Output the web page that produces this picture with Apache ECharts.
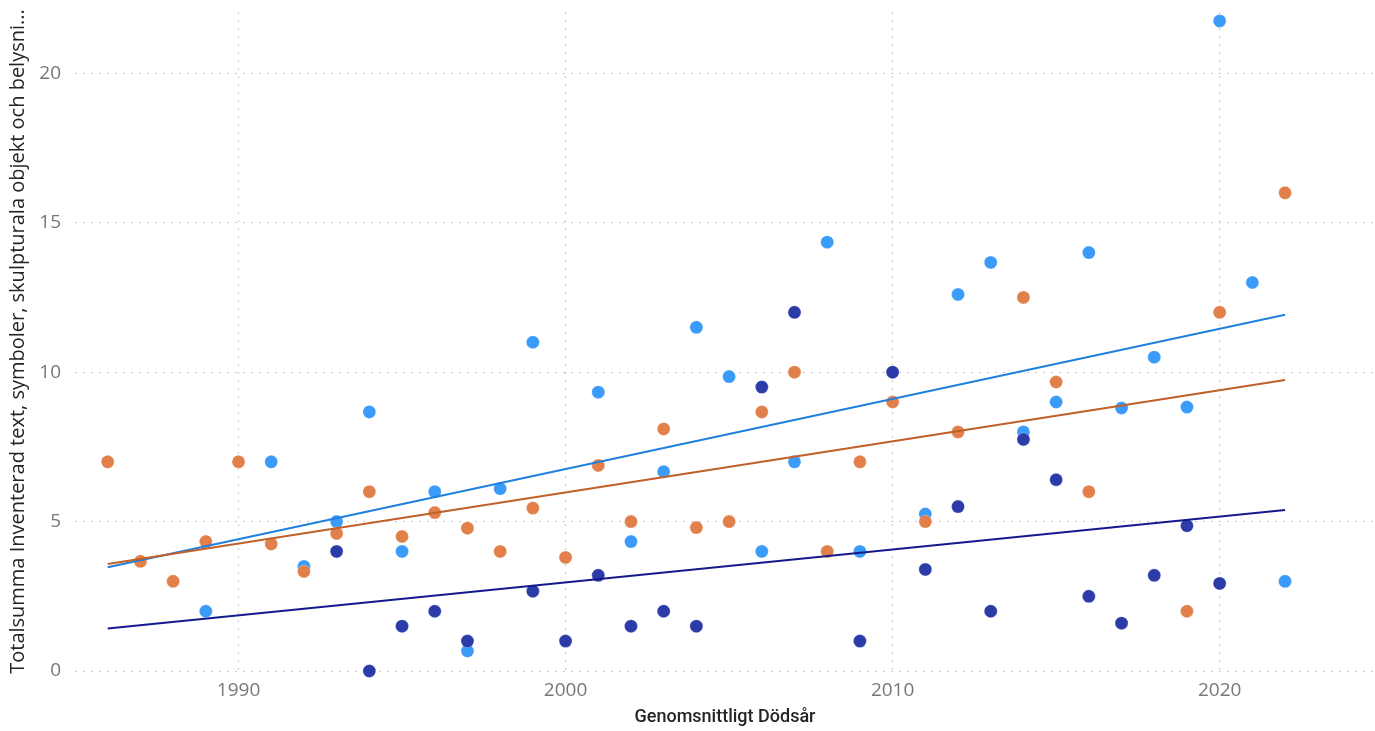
<!DOCTYPE html>
<html>
<head>
<meta charset="utf-8">
<script src="https://cdn.jsdelivr.net/npm/echarts@6/dist/echarts.min.js"></script>
<style>
html,body{margin:0;padding:0;background:#fff;}
#chart{width:1375px;height:731px;}
</style>
</head>
<body>
<div id="chart"></div>
<script>
// ---- data ----
const xTicks = [1990, 2000, 2010, 2020];
const yTicks = [0, 5, 10, 15, 20];

const lightBlueYears = [1989,1991,1992,1993,1994,1995,1996,1997,1998,1999,2001,2002,2003,2004,2005,2006,2007,2008,2009,2011,2012,2013,2014,2015,2016,2017,2018,2019,2020,2021,2022];
const lightBlueValues = [2.0,7.0,3.5,5.0,8.67,4.0,6.0,0.67,6.1,11.0,9.33,4.33,6.67,11.5,9.85,4.0,7.0,14.35,4.0,5.25,12.6,13.67,8.0,9.0,14.0,8.8,10.5,8.83,21.75,13.0,3.0];

const navyYears = [1993,1994,1995,1996,1997,1999,2000,2001,2002,2003,2004,2006,2007,2009,2010,2011,2012,2013,2014,2015,2016,2017,2018,2019,2020];
const navyValues = [4.0,0.0,1.5,2.0,1.0,2.67,1.0,3.2,1.5,2.0,1.5,9.5,12.0,1.0,10.0,3.4,5.5,2.0,7.75,6.4,2.5,1.6,3.2,4.86,2.93];

const orangeYears = [1986,1987,1988,1989,1990,1991,1992,1993,1994,1995,1996,1997,1998,1999,2000,2001,2002,2003,2004,2005,2006,2007,2008,2009,2010,2011,2012,2014,2015,2016,2019,2020,2022];
const orangeValues = [7.0,3.67,3.0,4.33,7.0,4.25,3.33,4.6,6.0,4.5,5.3,4.78,4.0,5.45,3.8,6.88,5.0,8.1,4.8,5.0,8.67,10.0,4.0,7.0,9.0,5.0,8.0,12.5,9.67,6.0,2.0,12.0,16.0];

const yAxisTitle = 'Totalsumma Inventerad text, symboler, skulpturala objekt och belysni...';
const xAxisTitle = 'Genomsnittligt Dödsår';

// ---- helpers ----
function pairs(xs, ys){ return xs.map((x,i)=>[x, ys[i]]); }
const allX = [].concat(lightBlueYears, navyYears, orangeYears);
const xLo = Math.min.apply(null, allX), xHi = Math.max.apply(null, allX);
function trend(xs, ys){
  const n = xs.length;
  const mx = xs.reduce((a,b)=>a+b,0)/n, my = ys.reduce((a,b)=>a+b,0)/n;
  let sxy=0, sxx=0;
  for(let i=0;i<n;i++){ sxy += (xs[i]-mx)*(ys[i]-my); sxx += (xs[i]-mx)*(xs[i]-mx); }
  const b = sxy/sxx, a = my - b*mx;
  return [[xLo, a+b*xLo],[xHi, a+b*xHi]];
}

const FONT = "'Segoe UI','Open Sans','Noto Sans',sans-serif";
const colLight = '#3A9BF8', colNavy = '#2B3BA8', colOrange = '#E1804A';
const lineLight = '#1F80DE', lineNavy = '#14198C', lineOrange = '#C0602A';

function scatter(name, xs, ys, color){
  return {
    name, type:'scatter', data: pairs(xs, ys), symbolSize: 13,
    itemStyle:{color, opacity:1, borderColor:'rgba(255,255,255,0.5)', borderWidth:0.5},
    emphasis:{disabled:true}, z:3
  };
}
function trendLine(name, xs, ys, color){
  return {
    name, type:'line', data: trend(xs, ys), symbol:'none', silent:true,
    lineStyle:{color, width:2}, z:4, animation:false
  };
}

const chart = echarts.init(document.getElementById('chart'), null, {renderer:'canvas'});
chart.setOption({
  animation:false,
  grid:{left:75, right:0, top:12, bottom:55, containLabel:false},
  xAxis:{
    type:'value', min:1985, max:2024.75,
    name: xAxisTitle, nameLocation:'middle', nameGap:37,
    nameTextStyle:{fontFamily:"Roboto, 'DejaVu Sans', sans-serif", fontWeight:500, fontSize:18, color:'#252423'},
    axisLine:{show:false}, axisTick:{show:false, customValues: xTicks},
    axisLabel:{customValues: xTicks, fontFamily:FONT, fontSize:19, color:'#777777', margin:10, formatter: v => String(v)},
    splitLine:{show:true, lineStyle:{color:'#c8c8c8', type:[2,6], width:1}}
  },
  yAxis:{
    type:'value', min:0, max:22.05,
    name: yAxisTitle, nameLocation:'middle', nameRotate:90, nameGap:45,
    nameTextStyle:{fontFamily:FONT, fontSize:20, color:'#252423'},
    axisLine:{show:false}, axisTick:{show:false, customValues: yTicks},
    axisLabel:{customValues: yTicks, fontFamily:FONT, fontSize:19, color:'#777777', margin:14},
    splitLine:{show:true, lineStyle:{color:'#c8c8c8', type:[2,6], width:1}}
  },
  series:[
    scatter('Ljusblå', lightBlueYears, lightBlueValues, colLight),
    scatter('Mörkblå', navyYears, navyValues, colNavy),
    scatter('Orange', orangeYears, orangeValues, colOrange),
    trendLine('Trend ljusblå', lightBlueYears, lightBlueValues, lineLight),
    trendLine('Trend orange', orangeYears, orangeValues, lineOrange),
    trendLine('Trend mörkblå', navyYears, navyValues, lineNavy)
  ]
});
</script>
</body>
</html>
